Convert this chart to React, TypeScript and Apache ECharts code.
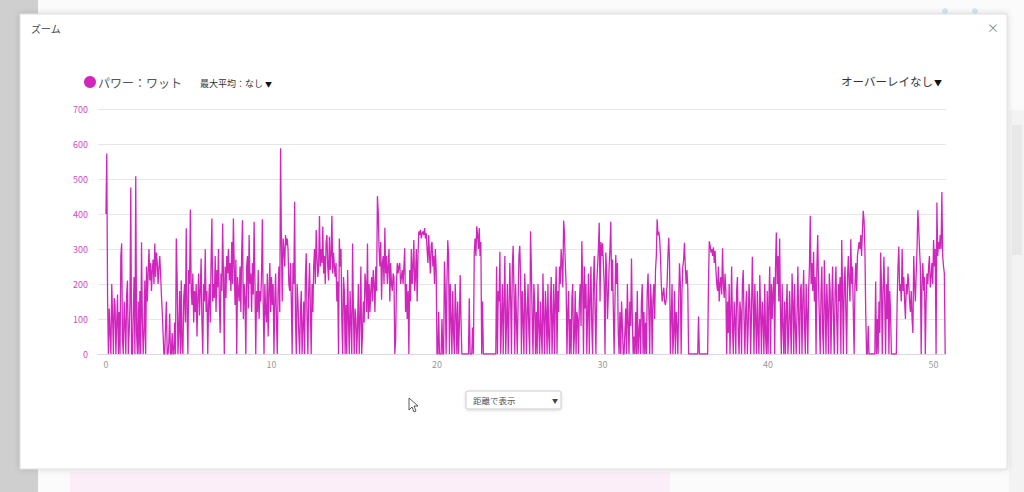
import React, { useEffect, useRef } from "react";
import * as echarts from "echarts";

// Power (W) sampled every 0.05 km; one row per kilometre
const SAMPLES_PER_KM = 20;
const powerByKm: number[][] = [
  [400,573,150,0,130,60,0,200,110,0,160,140,0,90,170,0,120,0,280,316],
  [40,0,150,90,0,170,210,0,60,140,476,0,0,120,220,0,508,60,0,150],
  [0,180,0,319,100,0,60,210,0,250,150,230,300,210,260,180,240,270,200,316],
  [220,290,260,200,245,280,230,170,120,60,0,0,80,150,0,0,30,116,0,0],
  [60,0,0,90,0,330,220,0,60,180,0,210,20,0,160,200,90,359,120,0],
  [240,200,413,180,140,230,90,180,120,200,50,160,230,110,180,273,90,0,200,150],
  [299,120,180,0,140,200,90,260,387,150,200,160,280,120,240,190,300,150,60,230],
  [180,373,220,0,250,160,280,230,300,210,260,180,320,200,387,250,140,270,0,220],
  [180,150,250,120,290,382,100,200,160,0,250,280,130,340,200,230,120,260,170,378],
  [210,0,180,120,240,100,180,150,230,385,150,0,200,120,90,230,50,180,260,120],
  [220,140,200,0,150,230,100,0,180,250,120,588,320,150,330,300,250,340,310,330],
  [300,200,180,260,150,0,260,200,435,100,0,200,150,60,0,120,180,0,80,150],
  [0,220,288,100,0,180,260,130,0,200,120,250,300,200,354,280,220,250,394,250],
  [300,260,364,230,280,200,320,340,250,210,335,240,280,395,230,290,250,220,260,150],
  [207,0,330,250,300,100,0,220,180,0,140,0,240,100,0,180,90,0,316,120],
  [0,130,100,0,80,200,0,100,250,0,60,150,90,230,200,120,316,100,200,120],
  [180,220,150,240,200,120,250,180,451,406,300,250,320,155,260,280,200,361,230,280],
  [200,250,300,150,260,200,180,230,220,0,40,200,260,230,250,260,200,220,240,200],
  [250,302,120,200,100,180,0,240,150,300,200,250,326,180,220,300,150,280,350,340],
  [355,330,345,350,340,360,330,345,300,260,340,280,230,310,320,250,280,200,300,240],
  [0,0,120,0,0,0,100,0,0,264,180,0,200,325,280,0,200,100,0,180],
  [60,0,200,120,0,150,0,80,226,100,0,0,0,0,0,0,0,0,0,159],
  [0,0,0,76,0,290,330,280,365,340,300,360,280,320,0,150,0,0,0,0],
  [0,0,0,0,0,0,0,0,0,0,0,0,250,0,180,150,292,0,100,200],
  [0,150,280,0,90,200,0,120,260,150,0,250,309,180,0,200,100,0,150,280],
  [309,220,0,180,100,0,230,150,0,120,200,60,0,351,250,100,0,200,150,0],
  [120,0,200,80,0,150,60,0,230,100,0,180,120,0,200,50,0,140,220,0],
  [100,200,0,150,250,0,180,120,250,200,300,260,190,381,347,260,200,0,120,180],
  [0,100,0,160,200,0,50,180,0,120,100,0,150,200,80,322,200,0,250,130],
  [200,0,120,230,0,160,250,80,0,200,280,120,0,200,250,300,375,150,320,280],
  [316,260,200,0,290,230,100,170,250,300,378,180,270,130,0,150,283,200,260,60],
  [0,120,0,150,80,0,0,60,130,0,200,90,0,150,80,273,100,0,50,0],
  [120,0,180,0,60,100,0,150,200,0,120,0,90,0,180,230,120,0,200,150],
  [0,160,200,100,240,280,385,340,350,330,280,200,150,170,190,150,140,160,200,280],
  [332,260,0,100,200,0,60,180,0,120,80,0,150,259,200,0,180,250,270,318],
  [250,200,240,190,0,0,0,0,0,0,0,0,0,0,0,0,107,0,0,0],
  [0,0,0,0,0,0,0,0,200,322,310,290,300,280,305,260,295,240,200,180],
  [250,150,200,220,170,302,200,160,230,180,0,150,60,200,0,120,250,80,0,150],
  [100,0,180,220,60,0,150,120,0,200,240,100,0,130,180,0,80,200,150,0],
  [120,278,150,0,200,100,0,180,60,0,226,120,0,150,100,0,200,50,0,180],
  [0,150,250,0,200,100,180,220,0,250,347,200,280,150,330,120,0,200,80,0],
  [150,0,120,200,0,60,180,100,0,230,150,0,200,80,0,120,250,100,0,180],
  [200,0,150,240,90,0,200,120,0,180,250,395,200,260,180,292,150,220,0,250],
  [340,200,100,0,180,250,60,0,268,150,0,200,120,0,230,180,0,150,250,100],
  [0,180,250,100,0,200,150,220,0,326,180,0,200,250,120,0,220,280,200,150],
  [328,200,250,120,0,200,260,180,280,300,320,300,340,280,350,409,382,300,120,0],
  [0,80,0,0,0,0,0,0,0,0,207,0,100,0,150,60,290,200,0,180],
  [278,150,0,200,100,250,0,180,120,0,0,0,0,0,0,0,150,250,307,180],
  [200,150,300,180,220,150,100,200,170,230,200,150,120,180,100,60,280,200,150,230],
  [300,411,360,300,250,0,200,260,180,220,0,150,230,200,250,280,190,220,260,200],
  [326,250,300,0,433,280,320,300,340,300,463,280,250,230,0],
];

const xTickValues = [0, 10, 20, 30, 40, 50];
const yMin = 0;
const yMax = 700;
const yStep = 100;

const seriesName = "パワー：ワット";
const dialogTitle = "ズーム";
const maxAvgLabel = "最大平均：なし";
const overlayLabel = "オーバーレイなし";
const dropMark = "▼";
const modeLabel = "距離で表示";

const LINE_COLOR = "#d026bc";
const FONT = "'Noto Sans CJK JP', 'Noto Sans', sans-serif";

export default function App() {
  const ref = useRef<HTMLDivElement>(null);

  useEffect(() => {
    if (!ref.current) return;
    const chart = echarts.init(ref.current, undefined, { renderer: "svg" });

    const data: number[][] = [];
    powerByKm.forEach((row, k) => {
      row.forEach((v, j) => data.push([k + j / SAMPLES_PER_KM, v]));
    });

    chart.setOption({
      animation: false,
      backgroundColor: "#fbfbfb",
      textStyle: { fontFamily: FONT },
      graphic: [
        // page background pieces
        { type: "rect", z: 0, shape: { x: 0, y: 0, width: 38, height: 492 }, style: { fill: "#cfcfcf" } },
        { type: "rect", z: 0, shape: { x: 1009, y: 110, width: 15, height: 382 }, style: { fill: "#f3f3f3" } },
        { type: "rect", z: 0, shape: { x: 1012, y: 125, width: 10, height: 130 }, style: { fill: "#e8e8e8" } },
        { type: "rect", z: 0, shape: { x: 70, y: 472, width: 600, height: 20 }, style: { fill: "#fbeef9" } },
        { type: "circle", z: 0, shape: { cx: 945, cy: 11, r: 3 }, style: { fill: "#cfe8f8" } },
        { type: "circle", z: 0, shape: { cx: 975, cy: 11, r: 3 }, style: { fill: "#cfe8f8" } },
        // modal
        {
          type: "rect", z: 0,
          shape: { x: 20, y: 14, width: 987, height: 455 },
          style: { fill: "#ffffff", stroke: "#dddddd", lineWidth: 1, shadowBlur: 6, shadowColor: "rgba(0,0,0,0.15)" },
        },
        { type: "text", z: 10, x: 31, y: 28, style: { text: dialogTitle, fontSize: 10, fill: "#444", fontFamily: FONT, verticalAlign: "middle" } },
        { type: "text", z: 10, x: 993, y: 27, style: { text: "×", fontSize: 12, fill: "#888", fontFamily: FONT, align: "center", verticalAlign: "middle" } },
        // legend
        { type: "circle", z: 10, shape: { cx: 90, cy: 82, r: 6 }, style: { fill: LINE_COLOR } },
        { type: "text", z: 10, x: 98, y: 82, style: { text: seriesName, fontSize: 12, fill: "#555", fontFamily: FONT, verticalAlign: "middle" } },
        { type: "text", z: 10, x: 200, y: 83, style: { text: maxAvgLabel, fontSize: 9, fill: "#333", fontFamily: FONT, verticalAlign: "middle" } },
        { type: "text", z: 10, x: 265, y: 84, style: { text: dropMark, fontSize: 7, fill: "#111", fontFamily: FONT, verticalAlign: "middle" } },
        { type: "text", z: 10, x: 933, y: 81, style: { text: overlayLabel, fontSize: 11.5, fill: "#333", fontFamily: FONT, align: "right", verticalAlign: "middle" } },
        { type: "text", z: 10, x: 934, y: 82, style: { text: dropMark, fontSize: 8, fill: "#111", fontFamily: FONT, verticalAlign: "middle" } },
        // dropdown
        {
          type: "rect", z: 10,
          shape: { x: 466, y: 391, width: 95, height: 18, r: 2 },
          style: { fill: "#ffffff", stroke: "#cccccc", lineWidth: 1, shadowBlur: 3, shadowColor: "rgba(0,0,0,0.15)", shadowOffsetY: 1 },
        },
        { type: "text", z: 11, x: 473, y: 400, style: { text: modeLabel, fontSize: 8.5, fill: "#555", fontFamily: FONT, verticalAlign: "middle" } },
        { type: "text", z: 11, x: 555, y: 400, style: { text: dropMark, fontSize: 6, fill: "#444", fontFamily: FONT, align: "center", verticalAlign: "middle" } },
        // mouse cursor
        {
          type: "polygon", z: 12,
          shape: { points: [[409, 398], [409, 410], [412, 407], [414, 412], [416, 411], [414, 406], [418, 406]] },
          style: { fill: "#ffffff", stroke: "#333333", lineWidth: 0.8 },
        },
      ],
      grid: { left: 98, right: 78, top: 109, bottom: 138, containLabel: false },
      xAxis: {
        type: "value",
        min: -0.48,
        max: 50.75,
        z: 5,
        axisLine: { show: true, lineStyle: { color: "#d8d8e6", width: 1 } },
        axisTick: { show: false },
        splitLine: { show: false },
        axisLabel: {
          customValues: xTickValues,
          color: "#999",
          fontSize: 9,
          margin: 6,
          fontFamily: FONT,
        },
      },
      yAxis: {
        type: "value",
        min: yMin,
        max: yMax,
        interval: yStep,
        z: 5,
        axisLine: { show: false },
        axisTick: { show: false },
        splitLine: { show: true, lineStyle: { color: "#e6e6e6", width: 1 } },
        axisLabel: { color: "#d24cc4", fontSize: 9, margin: 10, fontFamily: FONT },
      },
      series: [
        {
          name: seriesName,
          type: "line",
          z: 6,
          data,
          showSymbol: false,
          symbol: "none",
          lineStyle: { color: LINE_COLOR, width: 1.3 },
          itemStyle: { color: LINE_COLOR },
        },
      ],
    });

    return () => chart.dispose();
  }, []);

  return (
    <div
      ref={ref}
      style={{ position: "fixed", left: 0, top: 0, width: 1024, height: 492 }}
    />
  );
}
